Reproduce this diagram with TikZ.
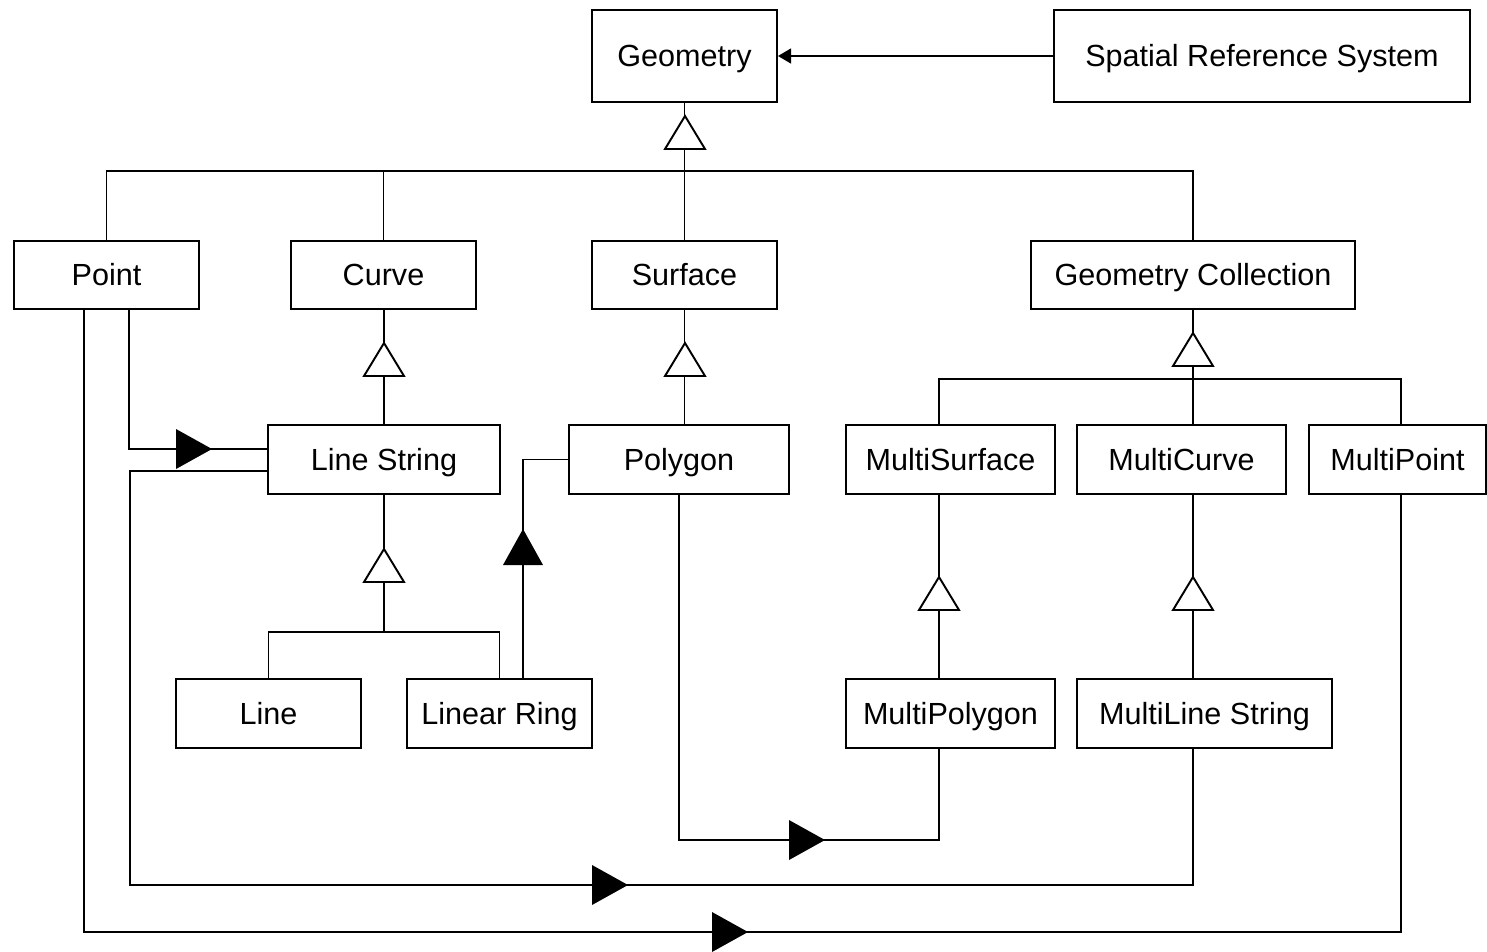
\documentclass[tikz,border=0pt]{standalone}
\usepackage{fontspec}
\setmainfont{Liberation Sans}
\usetikzlibrary{calc,arrows.meta}
\begin{document}
\begin{tikzpicture}[x=0.02cm,y=-0.02cm,
  line width=1.1pt,
  cls/.style={draw,fill=white,inner sep=0pt,minimum height=1.38cm,
    text height=12.5pt,text depth=0pt,
    font=\fontsize{17.4}{20}\selectfont},
  gentri/.pic={\draw[fill=white,line width=1.1pt] (0,0) -- (-20,33) -- (20,33) -- cycle;},
  assoc/.pic={\fill (0,0) -- (-36,-20) -- (-36,20) -- cycle;}]
\useasboundingbox (0,0) rectangle (1487,951);

% classes
\node[cls,minimum width=3.7cm,minimum height=1.84cm] (geom) at (684.5,56) {Geometry};
\node[cls,minimum width=8.32cm,minimum height=1.84cm] (srs) at (1262,56) {Spatial Reference System};
\node[cls,minimum width=3.7cm,minimum height=1.36cm] (point) at (106.5,275) {Point};
\node[cls,minimum width=3.7cm,minimum height=1.36cm] (curve) at (383.5,275) {Curve};
\node[cls,minimum width=3.7cm,minimum height=1.36cm] (surface) at (684.5,275) {Surface};
\node[cls,minimum width=6.48cm,minimum height=1.36cm] (gc) at (1193,275) {Geometry Collection};
\node[cls,minimum width=4.64cm] (ls) at (384,459.5) {Line String};
\node[cls,minimum width=4.4cm] (poly) at (679,459.5) {Polygon};
\node[cls,minimum width=4.18cm] (msurf) at (950.5,459.5) {MultiSurface};
\node[cls,minimum width=4.18cm] (mcurve) at (1181.5,459.5) {MultiCurve};
\node[cls,minimum width=3.55cm] (mpoint) at (1397.5,459.5) {MultiPoint};
\node[cls,minimum width=3.7cm] (line) at (268.5,713.5) {Line};
\node[cls,minimum width=3.7cm] (lring) at (499.5,713.5) {Linear Ring};
\node[cls,minimum width=4.18cm] (mpoly) at (950.5,713.5) {MultiPolygon};
\node[cls,minimum width=5.1cm] (mline) at (1204.5,713.5) {MultiLine String};

% bus levels and off-centre columns
\coordinate (b0) at (0,171);
\coordinate (b1) at (0,379);
\coordinate (b2) at (0,632);
\coordinate (msTop) at ($(msurf.north)+(-11.5,0)$);
\coordinate (msBot) at ($(msurf.south)+(-11.5,0)$);
\coordinate (mpTop) at ($(mpoly.north)+(-11.5,0)$);
\coordinate (mpBot) at ($(mpoly.south)+(-11.5,0)$);
\coordinate (mcTop) at ($(mcurve.north)+(11.5,0)$);
\coordinate (mcBot) at ($(mcurve.south)+(11.5,0)$);
\coordinate (mlTop) at ($(mline.north)+(-11.5,0)$);
\coordinate (mlBot) at ($(mline.south)+(-11.5,0)$);
\coordinate (mptTop) at ($(mpoint.north)+(3.5,0)$);
\coordinate (mptBot) at ($(mpoint.south)+(3.5,0)$);

% generalisation tree lines
\draw (geom.south) -- (surface.north);
\draw (point.north) -- (point.north |- b0) -- (gc.north |- b0) -- (gc.north);
\draw (curve.north) -- (curve.north |- b0);
\draw (curve.south -| ls.north) -- (ls.north);
\draw (surface.south) -- (surface.south |- poly.north);
\draw (gc.south) -- (mcTop);
\draw (msTop) -- (msTop |- b1) -- (mptTop |- b1) -- (mptTop);
\draw (ls.south) -- (ls.south |- b2);
\draw (line.north) -- (line.north |- b2) -- (lring.north |- b2) -- (lring.north);
\draw (msBot) -- (mpTop);
\draw (mcBot) -- (mlTop);

% associations
\draw[-{Triangle[length=7.5pt,width=8.5pt]}] (srs.west) -- (geom.east);
\draw ($(point.south)+(22.5,0)$) |- ($(ls.west)+(0,-10.5)$);
\draw ($(ls.west)+(0,11.5)$) -| (130,885) -| (mlBot);
\draw ($(point.south)+(-22.5,0)$) |- (1401,932) -- (mptBot);
\draw (poly.south) |- (939,840) -- (mpBot);
\draw ($(lring.north)+(23.5,0)$) |- (poly.west);

% generalisation heads
\pic at (685,116) {gentri};
\pic at (384,343) {gentri};
\pic at (685,343) {gentri};
\pic at (1193,333) {gentri};
\pic at (384,549) {gentri};
\pic at (939,577) {gentri};
\pic at (1193,577) {gentri};

% navigability heads
\pic at (212,449) {assoc};
\pic[rotate=90] at (523,529) {assoc};
\pic at (825,840) {assoc};
\pic at (628,885) {assoc};
\pic at (748,932) {assoc};
\end{tikzpicture}
\end{document}
